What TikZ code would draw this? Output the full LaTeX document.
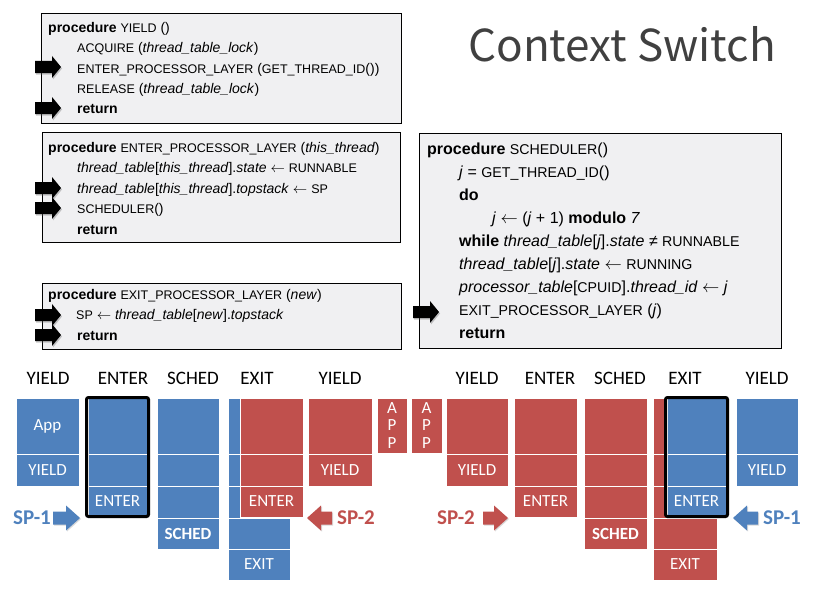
\documentclass[tikz,border=0pt]{standalone}
\usepackage{fontspec}
\setmainfont{Liberation Sans}
\newfontfamily\calib{Carlito}
\newfontfamily\ttlfont{Noto Sans CJK SC}
\usetikzlibrary{shadows}
\definecolor{cblue}{HTML}{4F81BD}
\definecolor{cred}{HTML}{C0504D}
\definecolor{codebg}{HTML}{F0F0F2}
\definecolor{ttlgray}{HTML}{404040}
\newcommand\smsz{12.5}
\newcommand\smc[1]{{\fontsize{\smsz}{\smsz}\selectfont #1}}
\newcommand\larr{\ensuremath{\leftarrow}}
% stack cell: name, x1, x2, y1, y2, colour, text
\newcommand\stk[7]{\def\stktext{#7}\ifx\stktext\empty
  \path[cellbox, fill=#6] (#2,#4) rectangle (#3,#5);
  \else
  \node[cellbox, celltext, fill=#6, minimum width={#3-#2}, minimum height={#5-#4}] (#1) at ({(#2+#3)/2},{(#4+#5)/2}) {#7};
  \fi}
% block arrow: tail x, tip x, y, shaft half, head half, head length, style
\newcommand\barrow[7]{\fill[#7] (#1,{#3-#4}) -- ({#2-(#6)},{#3-#4}) -- ({#2-(#6)},{#3-#5}) -- (#2,#3) -- ({#2-(#6)},{#3+#5}) -- ({#2-(#6)},{#3+#4}) -- (#1,{#3+#4}) -- cycle;}
\tikzset{
  codebox/.style={draw=black, line width=0.8pt, fill=codebg},
  codeA/.style={anchor=base west, inner sep=0pt, font=\fontsize{14}{14}\selectfont},
  codeB/.style={anchor=base west, inner sep=0pt, font=\fontsize{16}{16}\selectfont},
  hdr/.style={font=\calib\fontsize{19}{19}\selectfont, inner sep=0pt, anchor=base},
  cellbox/.style={draw=white, line width=1pt,
    drop shadow={shadow xshift=1pt, shadow yshift=-1.2pt, opacity=0.3, fill=black!60}},
  celltext/.style={inner sep=0pt, text=white, align=center, font=\calib\fontsize{17}{17.5}\selectfont},
  frame/.style={draw=black, line width=3pt, rounded corners=2pt},
  splabel/.style={font=\calib\bfseries\fontsize{21}{21}\selectfont, inner sep=0pt},
  codearrow/.style={fill=black, drop shadow={shadow xshift=1pt, shadow yshift=-1.5pt, opacity=0.35, fill=black!60}},
  bluearrow/.style={fill=cblue, drop shadow={shadow xshift=1pt, shadow yshift=-1pt, opacity=0.25, fill=black!60}},
  redarrow/.style={fill=cred, drop shadow={shadow xshift=1pt, shadow yshift=-1pt, opacity=0.25, fill=black!60}},
}
\begin{document}
\begin{tikzpicture}[x=1pt,y=-1pt]
\useasboundingbox (0,0) rectangle (816,594);

% title
\node[font=\ttlfont\fontsize{44}{44}\selectfont, text=ttlgray, inner sep=0pt, anchor=base] (title) at (622,62) {Context Switch};

% ---------- box 1: YIELD
\path[codebox] (41,13) rectangle (401,123);
\node[codeA] (b1l1) at (48,32.5) {\textbf{procedure} \smc{YIELD} ()};
\node[codeA] (b1l2) at (77,52.8) {\smc{ACQUIRE} (\textit{thread\_table\_lock})};
\node[codeA] (b1l3) at (77,73.1) {\smc{ENTER\_PROCESSOR\_LAYER} (\smc{GET\_THREAD\_ID}())};
\node[codeA] (b1l4) at (77,93.4) {\smc{RELEASE} (\textit{thread\_table\_lock})};
\node[codeA] (b1l5) at (77,113.7) {\textbf{return}};
\barrow{35}{61}{67}{6}{11}{9}{codearrow}
\barrow{35}{61}{108}{6}{11}{9}{codearrow}

% ---------- box 2: ENTER_PROCESSOR_LAYER
\path[codebox] (42,132) rectangle (400,242);
\node[codeA] (b2l1) at (48,152) {\textbf{procedure} \smc{ENTER\_PROCESSOR\_LAYER} (\textit{this\_thread})};
\node[codeA] (b2l2) at (77,172.5) {\textit{thread\_table}[\textit{this\_thread}].\textit{state} \larr{} \smc{RUNNABLE}};
\node[codeA] (b2l3) at (77,193) {\textit{thread\_table}[\textit{this\_thread}].\textit{topstack} \larr{} \smc{SP}};
\node[codeA] (b2l4) at (77,213.5) {\smc{SCHEDULER}()};
\node[codeA] (b2l5) at (77,234) {\textbf{return}};
\barrow{35}{61}{188}{6}{11}{9}{codearrow}
\barrow{35}{61}{208}{6}{11}{9}{codearrow}

% ---------- box 3: EXIT_PROCESSOR_LAYER
\path[codebox] (42,283) rectangle (401,349);
\node[codeA] (b3l1) at (48,299) {\textbf{procedure} \smc{EXIT\_PROCESSOR\_LAYER} (\textit{new})};
\node[codeA] (b3l2) at (76,319.5) {\smc{SP} \larr{} \textit{thread\_table}[\textit{new}].\textit{topstack}};
\node[codeA] (b3l3) at (77,340) {\textbf{return}};
\barrow{35}{61}{315}{6}{11}{9}{codearrow}
\barrow{35}{61}{335}{6}{11}{9}{codearrow}

% ---------- box 4: SCHEDULER
\path[codebox] (419,133) rectangle (781,348);
\begin{scope}[every node/.append style={execute at begin node={\renewcommand\smsz{14.2}}}]
\node[codeB] (b4l1) at (427,154) {\textbf{procedure} \smc{SCHEDULER}()};
\node[codeB] (b4l2) at (459,177.1) {\textit{j} = \smc{GET\_THREAD\_ID}()};
\node[codeB] (b4l3) at (459,200.2) {\textbf{do}};
\node[codeB] (b4l4) at (492,223.3) {\textit{j} \larr{} (\textit{j} + 1) \textbf{modulo} \textit{7}};
\node[codeB] (b4l5) at (459,246.4) {\textbf{while} \textit{thread\_table}[\textit{j}].\textit{state} ≠ \smc{RUNNABLE}};
\node[codeB] (b4l6) at (459,269.5) {\textit{thread\_table}[\textit{j}].\textit{state} \larr{} \smc{RUNNING}};
\node[codeB] (b4l7) at (459,292.6) {\textit{processor\_table}[\smc{CPUID}].\textit{thread\_id} \larr{} \textit{j}};
\node[codeB] (b4l8) at (459,315.7) {\smc{EXIT\_PROCESSOR\_LAYER} (\textit{j})};
\node[codeB] (b4l9) at (459,338.8) {\textbf{return}};
\end{scope}
\barrow{413}{439}{312}{6}{11}{9}{codearrow}

% ---------- headers
\node[hdr] (h1) at (48,384) {YIELD};
\node[hdr] (h2) at (123,384) {ENTER};
\node[hdr] (h3) at (193,384) {SCHED};
\node[hdr] (h4) at (257,384) {EXIT};
\node[hdr] (h5) at (340,384) {YIELD};
\node[hdr] (h6) at (477,384) {YIELD};
\node[hdr] (h7) at (550,384) {ENTER};
\node[hdr] (h8) at (620,384) {SCHED};
\node[hdr] (h9) at (685,384) {EXIT};
\node[hdr] (h10) at (767,384) {YIELD};

% ---------- column 1: YIELD (blue)
\stk{c1a}{16}{79}{398}{454}{cblue}{App}
\stk{c1b}{16}{79}{454}{486}{cblue}{YIELD}
% column 2: ENTER (blue, framed)
\stk{c2a}{88}{147}{398}{454}{cblue}{}
\stk{c2b}{88}{147}{454}{486}{cblue}{}
\stk{c2c}{88}{147}{486}{517}{cblue}{ENTER}
\draw[frame] (86.5,397.5) rectangle (148.5,516.5);
% column 3: SCHED (blue)
\stk{c3a}{157}{219}{398}{454}{cblue}{}
\stk{c3b}{157}{219}{454}{486}{cblue}{}
\stk{c3c}{157}{219}{486}{518}{cblue}{}
\stk{c3d}{157}{219}{518}{549}{cblue}{\bfseries SCHED}
% column 4: EXIT (blue) with red overlay
\stk{c4a}{228}{290}{398}{454}{cblue}{}
\stk{c4b}{228}{290}{454}{486}{cblue}{}
\stk{c4c}{228}{290}{486}{518}{cblue}{}
\stk{c4d}{228}{290}{518}{549}{cblue}{}
\stk{c4e}{228}{290}{549}{580}{cblue}{EXIT}
\stk{c4f}{240}{303}{398}{454}{cred}{}
\stk{c4g}{240}{303}{454}{486}{cred}{}
\stk{c4h}{240}{303}{486}{517}{cred}{ENTER}
% column 5: YIELD (red)
\stk{c5a}{308}{372}{398}{454}{cred}{}
\stk{c5b}{308}{372}{454}{486}{cred}{YIELD}
% APP boxes
\stk{c6a}{377}{407}{398}{453}{cred}{A\\P\\P}
\stk{c6b}{411}{442}{398}{453}{cred}{A\\P\\P}
% column 7: YIELD (red)
\stk{c7a}{446}{508}{398}{454}{cred}{}
\stk{c7b}{446}{508}{454}{486}{cred}{YIELD}
% column 8: ENTER (red)
\stk{c8a}{514}{577}{398}{454}{cred}{}
\stk{c8b}{514}{577}{454}{486}{cred}{}
\stk{c8c}{514}{577}{486}{517}{cred}{ENTER}
% column 9: SCHED (red)
\stk{c9a}{584}{647}{398}{454}{cred}{}
\stk{c9b}{584}{647}{454}{486}{cred}{}
\stk{c9c}{584}{647}{486}{518}{cred}{}
\stk{c9d}{584}{647}{518}{549}{cred}{\bfseries SCHED}
% column 10: EXIT (red) with blue framed overlay
\stk{c10a}{653}{717}{398}{454}{cred}{}
\stk{c10b}{653}{717}{454}{486}{cred}{}
\stk{c10c}{653}{717}{486}{518}{cred}{}
\stk{c10d}{653}{717}{518}{549}{cred}{}
\stk{c10e}{653}{717}{549}{580}{cred}{EXIT}
\stk{c10f}{667}{726}{398}{454}{cblue}{}
\stk{c10g}{667}{726}{454}{486}{cblue}{}
\stk{c10h}{667}{726}{486}{517}{cblue}{ENTER}
\draw[frame] (665.5,397.5) rectangle (727.5,516.5);
% column 11: YIELD (blue)
\stk{c11a}{736}{798}{398}{454}{cblue}{}
\stk{c11b}{736}{798}{454}{486}{cblue}{YIELD}

% ---------- stack pointers
\node[splabel, text=cblue] (sp1a) at (32,518) {SP-1};
\barrow{53}{80}{518}{6.5}{12.5}{14}{bluearrow}
\barrow{332}{307}{518}{6.5}{12.5}{-14}{redarrow}
\node[splabel, text=cred] (sp2a) at (356,518) {SP-2};
\node[splabel, text=cred] (sp2b) at (456,518) {SP-2};
\barrow{483}{508}{518}{6.5}{12.5}{14}{redarrow}
\barrow{758}{733}{518}{6.5}{12.5}{-14}{bluearrow}
\node[splabel, text=cblue] (sp1b) at (782,518) {SP-1};
\end{tikzpicture}
\end{document}
